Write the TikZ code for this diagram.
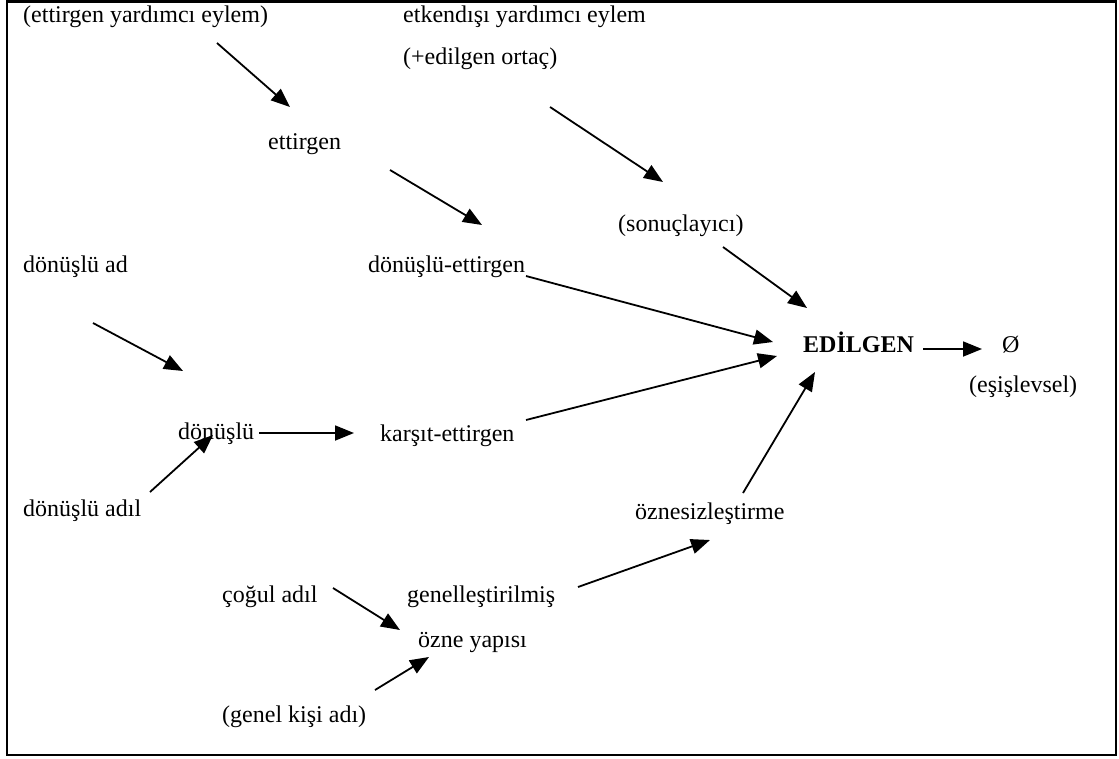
\documentclass[tikz,border=0pt]{standalone}
\usepackage{fontspec}
\setmainfont{Liberation Serif}
\usetikzlibrary{arrows.meta}
\begin{document}
\begin{tikzpicture}[x=1pt,y=-1pt,
  lbl/.style={anchor=west,inner sep=0pt,text height=16pt,text depth=5pt,font=\fontsize{24}{28}\selectfont},
  arr/.style={line width=1.8pt,-{Triangle[length=19pt,width=15pt]}}]
\useasboundingbox (0,0) rectangle (1119,758);
\draw[line width=2.2pt] (7,1.5) rectangle (1116,755);
% labels
\node[lbl] (t1) at (23,17) {(ettirgen yardımcı eylem)};
\node[lbl] (t2) at (403,17) {etkendışı yardımcı eylem};
\node[lbl] (t3) at (403,59) {(+edilgen ortaç)};
\node[lbl] (ett) at (268,144) {ettirgen};
\node[lbl] (son) at (618,226) {(sonuçlayıcı)};
\node[lbl] (dad) at (23,267) {dönüşlü ad};
\node[lbl] (det) at (368,267) {dönüşlü-ettirgen};
\node[lbl,font=\fontsize{24}{28}\selectfont\bfseries] (edl) at (803,347) {EDİLGEN};
\node[lbl] (null) at (1002,347) {Ø};
\node[lbl] (esi) at (969,387) {(eşişlevsel)};
\node[lbl] (don) at (178,434) {dönüşlü};
\node[lbl] (kar) at (380,436) {karşıt-ettirgen};
\node[lbl] (dadl) at (23,511) {dönüşlü adıl};
\node[lbl] (ozn) at (635,514) {öznesizleştirme};
\node[lbl] (cog) at (222,597) {çoğul adıl};
\node[lbl] (gen) at (407,597) {genelleştirilmiş};
\node[lbl] (yap) at (418,642) {özne yapısı};
\node[lbl] (gka) at (222,717) {(genel kişi adı)};
% connector ends
\coordinate (a1s) at (217,43);  \coordinate (a1e) at (290,107);
\coordinate (a2s) at (390,170); \coordinate (a2e) at (482,225);
\coordinate (a3s) at (550,107); \coordinate (a3e) at (663,182);
\coordinate (a4s) at (723,247); \coordinate (a4e) at (807,308);
\coordinate (a5s) at (526,276); \coordinate (a5e) at (773,342);
\coordinate (a6s) at (526,420); \coordinate (a6e) at (777,356);
\coordinate (a7s) at (743,493); \coordinate (a7e) at (815,372);
\coordinate (a8s) at (923,349); \coordinate (a8e) at (982,349);
\coordinate (a9s) at (93,323);  \coordinate (a9e) at (183,371);
\coordinate (a10s) at (259,433); \coordinate (a10e) at (354,433);
\coordinate (a11s) at (150,492); \coordinate (a11e) at (213,435);
\coordinate (a12s) at (333,588); \coordinate (a12e) at (400,630);
\coordinate (a13s) at (578,587); \coordinate (a13e) at (710,540);
\coordinate (a14s) at (375,690); \coordinate (a14e) at (429,657);
\foreach \i in {1,...,14} \draw[arr] (a\i s) -- (a\i e);
\end{tikzpicture}
\end{document}
